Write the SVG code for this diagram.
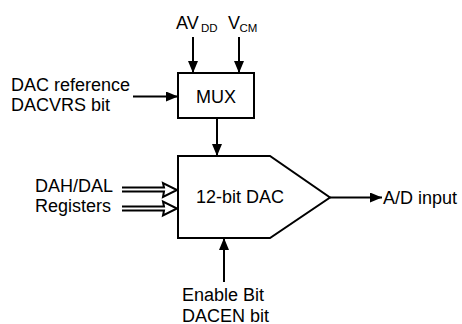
<svg xmlns="http://www.w3.org/2000/svg" width="462" height="324" viewBox="0 0 462 324">
<defs>
<style>
text{font-family:"Liberation Sans",Arial,sans-serif;font-size:18px;fill:#000}
.sub{font-size:11.5px}
.ln{stroke:#000;stroke-width:2;fill:none}
.box{stroke:#000;stroke-width:2;fill:#fff}
.hol{stroke:#000;stroke-width:2;fill:none;stroke-linejoin:miter}
</style>
<marker id="ah" viewBox="0 0 12 10" refX="12" refY="5" markerWidth="12" markerHeight="10" markerUnits="userSpaceOnUse" orient="auto">
<path d="M0,0 L12,5 L0,10 Z" fill="#000"/>
</marker>
</defs>
<rect width="462" height="324" fill="#fff"/>
<g id="connectors">
<line class="ln" x1="193" y1="37" x2="193" y2="73" marker-end="url(#ah)"/>
<line class="ln" x1="239" y1="37" x2="239" y2="73" marker-end="url(#ah)"/>
<line class="ln" x1="133" y1="96.5" x2="178" y2="96.5" marker-end="url(#ah)"/>
<line class="ln" x1="217" y1="118" x2="217" y2="156" marker-end="url(#ah)"/>
<line class="ln" x1="330" y1="197.5" x2="382" y2="197.5" marker-end="url(#ah)"/>
<line class="ln" x1="224" y1="282" x2="224" y2="238" marker-end="url(#ah)"/>
<path class="hol" d="M122,187.5 H164 L163,183 L177,190 L163,197 L164,191.5 H122"/>
<path class="hol" d="M122,206.5 H164 L163,201.5 L177,208.5 L163,215.5 L164,210.5 H122"/>
</g>
<g id="avdd"><text x="176" y="29">AV</text><text class="sub" x="201" y="32">DD</text></g>
<g id="vcm"><text x="228" y="29">V</text><text class="sub" x="239.5" y="32">CM</text></g>
<g id="dacref"><text x="11" y="90.5">DAC reference</text><text x="11" y="110.5">DACVRS bit</text></g>
<g id="mux"><rect class="box" x="178" y="73" width="76" height="45"/><text x="216" y="102.5" text-anchor="middle">MUX</text></g>
<g id="dac"><path class="box" d="M178,156 H270 L330,197.5 L270,238 H178 Z"/><text x="240" y="203" text-anchor="middle">12-bit DAC</text></g>
<g id="regs"><text x="35" y="191.5">DAH/DAL</text><text x="35" y="211.5">Registers</text></g>
<g id="adin"><text x="383" y="203.5">A/D input</text></g>
<g id="enable"><text x="182" y="300.5">Enable Bit</text><text x="182" y="321.5">DACEN bit</text></g>
</svg>
